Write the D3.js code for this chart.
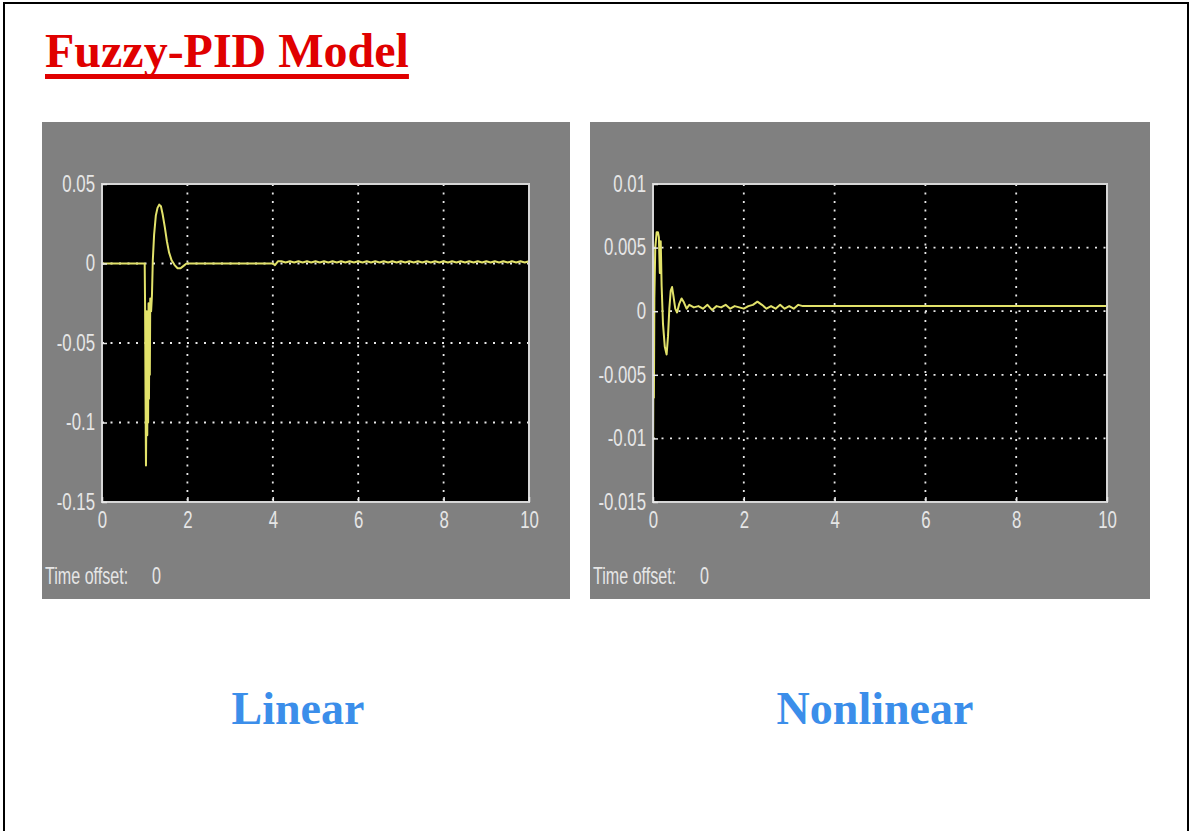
<!DOCTYPE html>
<html>
<head>
<meta charset="utf-8">
<script src="https://cdn.jsdelivr.net/npm/d3@7"></script>
<style>
  html, body { margin: 0; padding: 0; background: #fff; }
  svg { display: block; }
</style>
</head>
<body>
<svg id="chart" width="1191" height="831"></svg>
<script>
// ---------------- DATA ----------------
const chartTitle = "Fuzzy-PID Model";
const panelTitles = ["Linear", "Nonlinear"];
const timeOffsetLabel = "Time offset:";
const timeOffsetValue = "0";

const xTicks = [0, 2, 4, 6, 8, 10];
const xTickLabels = ["0", "2", "4", "6", "8", "10"];

const linearYTicks = [0.05, 0, -0.05, -0.1, -0.15];
const linearYTickLabels = ["0.05", "0", "-0.05", "-0.1", "-0.15"];

const nonlinearYTicks = [0.01, 0.005, 0, -0.005, -0.01, -0.015];
const nonlinearYTickLabels = ["0.01", "0.005", "0", "-0.005", "-0.01", "-0.015"];

// [time, value] samples (Linear)
const linearSeries = [
  [0, 0], [1.0, 0], [1.01, -0.03], [1.02, -0.085], [1.03, -0.127], [1.04, -0.09],
  [1.05, -0.03], [1.06, -0.108], [1.07, -0.04], [1.08, -0.1], [1.09, -0.025],
  [1.10, -0.085], [1.11, -0.028], [1.12, -0.07], [1.13, -0.022], [1.15, -0.03],
  [1.17, -0.02], [1.19, 0.002], [1.22, 0.018], [1.26, 0.03], [1.30, 0.035],
  [1.34, 0.037], [1.38, 0.036], [1.42, 0.031], [1.47, 0.023], [1.52, 0.014],
  [1.57, 0.007], [1.63, 0.002], [1.70, -0.001], [1.77, -0.003], [1.84, -0.003],
  [1.91, -0.0015], [1.98, 0], [4.0, 0], [4.05, -0.001], [4.12, 0.0014],
  [4.2, 0.0014], [4.3, 0.0006], [4.4, 0.0014], [4.5, 0.0006], [4.6, 0.0014],
  [4.7, 0.0006], [4.8, 0.0014], [4.9, 0.0006], [5.0, 0.0014], [5.1, 0.0006],
  [5.2, 0.0014], [5.3, 0.0006], [5.4, 0.0014], [5.5, 0.0006], [5.6, 0.0014],
  [5.7, 0.0006], [5.8, 0.0014], [5.9, 0.0006], [6.0, 0.0014], [6.1, 0.0006],
  [6.2, 0.0014], [6.3, 0.0006], [6.4, 0.0014], [6.5, 0.0006], [6.6, 0.0014],
  [6.7, 0.0006], [6.8, 0.0014], [6.9, 0.0006], [7.0, 0.0014], [7.1, 0.0006],
  [7.2, 0.0014], [7.3, 0.0006], [7.4, 0.0014], [7.5, 0.0006], [7.6, 0.0014],
  [7.7, 0.0006], [7.8, 0.0014], [7.9, 0.0006], [8.0, 0.0014], [8.1, 0.0006],
  [8.2, 0.0014], [8.3, 0.0006], [8.4, 0.0014], [8.5, 0.0006], [8.6, 0.0014],
  [8.7, 0.0006], [8.8, 0.0014], [8.9, 0.0006], [9.0, 0.0014], [9.1, 0.0006],
  [9.2, 0.0014], [9.3, 0.0006], [9.4, 0.0014], [9.5, 0.0006], [9.6, 0.0014],
  [9.7, 0.0006], [9.8, 0.0014], [9.9, 0.0006], [10.0, 0.0014]
];

// [time, value] samples (Nonlinear)
const nonlinearSeries = [
  [0, -0.013], [0.01, -0.004], [0.02, -0.0068], [0.03, 0.001], [0.05, 0.005],
  [0.08, 0.0062], [0.11, 0.0062], [0.13, 0.0058], [0.15, 0.003], [0.17, 0.0055],
  [0.19, 0.002], [0.22, -0.001], [0.26, -0.0028], [0.30, -0.0034], [0.33, -0.002],
  [0.36, 0.0002], [0.39, 0.0016], [0.42, 0.0019], [0.45, 0.0012], [0.49, 0.0002],
  [0.53, -0.0001], [0.58, 0.0006], [0.63, 0.001], [0.68, 0.0007], [0.74, 0.0002],
  [0.80, 0.0005], [0.9, 0.0003], [1.0, 0.0004], [1.1, 0.0002], [1.2, 0.0005],
  [1.3, 0.0001], [1.4, 0.0004], [1.5, 0.0003], [1.6, 0.0005], [1.7, 0.0002],
  [1.8, 0.0004], [1.9, 0.0003], [2.0, 0.0002], [2.1, 0.0004], [2.2, 0.0005],
  [2.3, 0.00075], [2.4, 0.0005], [2.5, 0.0002], [2.6, 0.0004], [2.7, 0.0002],
  [2.8, 0.0005], [2.9, 0.0002], [3.0, 0.0004], [3.1, 0.0002], [3.2, 0.0005],
  [3.3, 0.0004], [10.0, 0.0004]
];

// ---------------- DRAWING ----------------
const svg = d3.select("#chart");
svg.append("rect").attr("width", 1191).attr("height", 831).attr("fill", "#ffffff");

// slide frame
svg.append("path")
  .attr("d", "M4,840 V3 H1188 V840")
  .attr("fill", "none").attr("stroke", "#000").attr("stroke-width", 2);

// title
const title = svg.append("text")
  .attr("x", 45).attr("y", 67)
  .attr("font-family", "'Liberation Serif', 'Times New Roman', serif")
  .attr("font-weight", "bold").attr("font-size", 48)
  .attr("fill", "#e00000")
  .text(chartTitle);
const tLen = title.node().getComputedTextLength();
svg.append("rect").attr("x", 45).attr("y", 74).attr("width", tLen).attr("height", 5).attr("fill", "#e00000");

const panels = [
  { series: linearSeries, yTicks: linearYTicks, yLabels: linearYTickLabels,
    box: { x: 42, y: 122, w: 528, h: 477 }, plot: { l: 102, r: 529, t: 184, b: 502 },
    name: panelTitles[0], nameX: 298 },
  { series: nonlinearSeries, yTicks: nonlinearYTicks, yLabels: nonlinearYTickLabels,
    box: { x: 590, y: 122, w: 560, h: 477 }, plot: { l: 653, r: 1107, t: 184, b: 502 },
    name: panelTitles[1], nameX: 875 }
];

const labelFont = "'Liberation Sans', Arial, sans-serif";
const labelColor = "#e6e6e6";
const sx = 0.7;

panels.forEach(p => {
  const g = svg.append("g");
  g.append("rect").attr("x", p.box.x).attr("y", p.box.y)
    .attr("width", p.box.w).attr("height", p.box.h).attr("fill", "#808080");

  const x = d3.scaleLinear().domain([0, 10]).range([p.plot.l, p.plot.r]);
  const yMax = d3.max(p.yTicks), yMin = d3.min(p.yTicks);
  const y = d3.scaleLinear().domain([yMin, yMax]).range([p.plot.b, p.plot.t]);

  g.append("rect").attr("x", p.plot.l).attr("y", p.plot.t)
    .attr("width", p.plot.r - p.plot.l).attr("height", p.plot.b - p.plot.t)
    .attr("fill", "#000");

  // dotted grid
  const grid = g.append("g").attr("stroke", "#e8e8e8").attr("stroke-width", 1.8)
    .attr("stroke-dasharray", "2,6.5");
  grid.selectAll("line.v").data(xTicks.filter(v => v > 0 && v < 10)).join("line")
    .attr("x1", d => x(d)).attr("x2", d => x(d))
    .attr("y1", p.plot.t).attr("y2", p.plot.b);
  grid.selectAll("line.h").data(p.yTicks.filter(v => v > yMin && v < yMax)).join("line")
    .attr("y1", d => y(d)).attr("y2", d => y(d))
    .attr("x1", p.plot.l).attr("x2", p.plot.r);

  // trace
  const line = d3.line().x(d => x(d[0])).y(d => y(d[1]));
  g.append("path").datum(p.series)
    .attr("d", line)
    .attr("fill", "none")
    .attr("stroke", "#e2e26a")
    .attr("stroke-width", 2)
    .attr("stroke-linejoin", "round");

  // frame
  g.append("rect").attr("x", p.plot.l).attr("y", p.plot.t)
    .attr("width", p.plot.r - p.plot.l).attr("height", p.plot.b - p.plot.t)
    .attr("fill", "none").attr("stroke", "#d6d6d6").attr("stroke-width", 2);

  // axes
  const xAxis = d3.axisBottom(x).tickValues(xTicks)
    .tickFormat((d, i) => xTickLabels[i]).tickSizeInner(-5).tickSizeOuter(0).tickPadding(10);
  const gx = g.append("g").attr("transform", `translate(0,${p.plot.b})`).call(xAxis);
  gx.select(".domain").remove();
  gx.selectAll(".tick line").attr("stroke", "#e8e8e8").attr("stroke-width", 1.5);
  gx.selectAll(".tick text")
    .attr("font-family", labelFont).attr("font-size", 24).attr("fill", labelColor)
    .attr("y", 9).attr("dy", "0.71em")
    .attr("transform", `scale(${sx},1)`);

  const yAxis = d3.axisLeft(y).tickValues(p.yTicks)
    .tickFormat((d, i) => p.yLabels[i]).tickSizeInner(-5).tickSizeOuter(0).tickPadding(7);
  const gy = g.append("g").attr("transform", `translate(${p.plot.l},0)`).call(yAxis);
  gy.select(".domain").remove();
  gy.selectAll(".tick line").attr("stroke", "#e8e8e8").attr("stroke-width", 1.5);
  gy.selectAll(".tick text")
    .attr("font-family", labelFont).attr("font-size", 24).attr("fill", labelColor)
    .attr("x", -7 / sx).attr("dy", "0.3em")
    .attr("transform", `scale(${sx},1)`);

  // time offset label
  g.append("text")
    .attr("transform", `translate(${p.box.x + 3},584) scale(${sx},1)`)
    .attr("font-family", labelFont).attr("font-size", 23).attr("fill", labelColor)
    .text(timeOffsetLabel);
  g.append("text")
    .attr("transform", `translate(${p.box.x + 110},584) scale(${sx},1)`)
    .attr("font-family", labelFont).attr("font-size", 23).attr("fill", labelColor)
    .text(timeOffsetValue);

  // panel caption
  svg.append("text")
    .attr("x", p.nameX).attr("y", 724)
    .attr("text-anchor", "middle")
    .attr("font-family", "'Liberation Serif', 'Times New Roman', serif")
    .attr("font-weight", "bold").attr("font-size", 46)
    .attr("fill", "#3b8eea")
    .text(p.name);
});
</script>
</body>
</html>
